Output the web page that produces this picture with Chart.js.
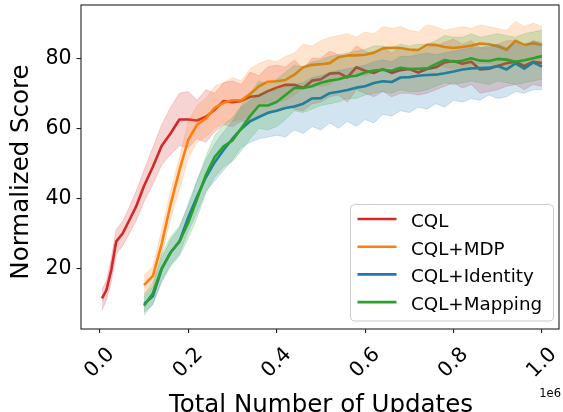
<!DOCTYPE html>
<html><head><meta charset="utf-8">
<script src="https://cdn.jsdelivr.net/npm/chart.js@4"></script>
<style>html,body{margin:0;padding:0;background:#fff}#wrap{width:563px;height:412px;position:relative}</style>
</head><body><div id="wrap"><canvas id="c"></canvas></div>
<script>
// ---- data (x in units of 1e6 updates) ----
const seriesLabels = ['CQL', 'CQL+MDP', 'CQL+Identity', 'CQL+Mapping'];
const seriesColors = ['#d62728', '#ff7f0e', '#1f77b4', '#2ca02c'];
const xTickValues = [0, 0.2, 0.4, 0.6, 0.8, 1.0];
const xTickLabels = ['0.0', '0.2', '0.4', '0.6', '0.8', '1.0'];
const yTickValues = [20, 40, 60, 80];
const xOffsetLabel = '1e6';
const xTitle = 'Total Number of Updates';
const yTitle = 'Normalized Score';

const xCQL = [0.005, 0.015, 0.026, 0.037, 0.052, 0.067, 0.082,
  0.10, 0.12, 0.14, 0.16, 0.18,
  0.20, 0.22, 0.24, 0.26, 0.28, 0.30, 0.32, 0.34, 0.36, 0.38,
  0.40, 0.42, 0.44, 0.46, 0.48, 0.50, 0.52, 0.54, 0.56, 0.58,
  0.60, 0.62, 0.64, 0.66, 0.68, 0.70, 0.72, 0.74, 0.76, 0.78,
  0.80, 0.82, 0.84, 0.86, 0.88, 0.90, 0.92, 0.94, 0.96, 0.98, 1.00];
const xOthers = [0.10, 0.12, 0.14, 0.16, 0.18,
  0.20, 0.22, 0.24, 0.26, 0.28, 0.30, 0.32, 0.34, 0.36, 0.38,
  0.40, 0.42, 0.44, 0.46, 0.48, 0.50, 0.52, 0.54, 0.56, 0.58,
  0.60, 0.62, 0.64, 0.66, 0.68, 0.70, 0.72, 0.74, 0.76, 0.78,
  0.80, 0.82, 0.84, 0.86, 0.88, 0.90, 0.92, 0.94, 0.96, 0.98, 1.00];

const cqlMean = [11.4, 13.8, 19.5, 27.6, 30, 33.8, 37.6,
  43.5, 49, 55, 58.5, 62.5,
  62.5, 62.2, 63.3, 65.3, 67.8, 67.4, 67.8, 69, 69.3, 70.6,
  71.6, 72.4, 72.4, 71.5, 73.6, 74, 75.6, 75.8, 74.5, 77.4,
  76.4, 75.8, 76.9, 75.8, 76.6, 76.9, 75.9, 76.9, 77.4, 78.8,
  79.2, 78.4, 79, 76.8, 77, 77.8, 78.6, 79, 77.8, 79, 78.6];
const cqlHi = [14, 16.5, 23, 31, 33.5, 37.5, 42,
  48, 54.5, 61, 66, 70,
  70.5, 68, 71, 70, 73, 73.5, 72.5, 76, 75, 77.5,
  78, 77.5, 79.5, 77, 80, 80, 82, 81, 80.5, 83.5,
  82, 81, 83, 81.5, 83, 82.5, 81.5, 83, 83.5, 84.5,
  85.5, 84, 85, 83, 83, 84, 85, 85, 84, 85, 84.5];
const cqlLo = [8, 11, 16, 24, 26.5, 30, 33.5,
  39, 44, 49.5, 52.5, 55,
  54.5, 57, 56, 59, 61, 60.5, 62, 62, 63, 64,
  65, 66.5, 65.5, 65, 67, 67.5, 69, 69.5, 67.5, 71,
  70, 69, 70.5, 69, 70, 70, 69.5, 70, 71, 72,
  73, 71.5, 72.5, 70, 70.5, 71, 72, 72.5, 71, 72.5, 72];

const mdpMean = [15.2, 17.8, 27, 38.2, 48,
  56.7, 61, 62.8, 65.8, 67.3, 68, 68, 69.8, 72, 73.3,
  73.4, 73.8, 75.3, 77.4, 78.1, 78.3, 78.6, 80.3, 80.8, 80.8,
  81, 81.6, 82.8, 83, 82.9, 82.5, 82.3, 83.8, 83.8, 83.2,
  82.9, 83.2, 83.6, 84.2, 84, 83.4, 82.4, 85, 83.8, 84.3, 83.8];
const mdpHi = [18, 20.5, 31, 42, 51.5,
  62, 66.5, 68.5, 72, 73, 74.5, 73.5, 77, 78.5, 79.5,
  79, 80.5, 81.5, 84, 83.5, 85, 86, 86.5, 87, 86,
  87.5, 87, 89, 88.5, 89, 88, 87.5, 89.5, 89, 88,
  88.5, 89, 88.5, 89.5, 89, 88.5, 88, 90.5, 89, 90, 89];
const mdpLo = [12.5, 14.5, 24, 34, 42.5,
  51.5, 56, 57.5, 60, 61.5, 62, 62.5, 63.5, 66, 67.5,
  67.5, 68, 69.5, 71.5, 72.5, 72, 72.5, 74.5, 75, 75.5,
  75, 76, 77, 77.5, 77, 76.5, 76.5, 78, 78.5, 77.5,
  77, 77.5, 78, 78.5, 78.5, 78, 76.5, 79.5, 78, 78.5, 78];

const idMean = [9.8, 12, 19.8, 24.5, 27.6,
  34.5, 40.5, 46, 50.3, 53.8, 57, 59.8, 62, 63.2, 64.4,
  65, 65.8, 66.2, 67, 68.5, 68.6, 70, 70.4, 70.9, 71.6,
  72, 72.9, 73.4, 73.2, 74.5, 74.6, 75, 75.2, 75.3, 75.7,
  76.2, 76.8, 77.1, 77.2, 77.3, 77.8, 76.8, 78.5, 77, 78.8, 77.6];
const idHi = [12, 14.5, 23, 28, 31.5,
  38.5, 45, 51, 55.5, 59, 62, 66, 68, 69.5, 70.5,
  71, 72, 72.5, 73, 74.5, 75, 76, 76.5, 77, 77.5,
  78, 79, 79.5, 79, 80.5, 80.5, 81, 81.5, 81, 81.5,
  82, 82.5, 83, 83, 83.5, 84, 83, 84.5, 83, 85, 84];
const idLo = [7.5, 9.5, 16.5, 21, 24,
  30.5, 36, 42, 45, 48, 51, 54.5, 56, 57, 57.5,
  58, 57.5, 59.5, 58.5, 60.5, 59.5, 61.5, 60, 62, 60.5,
  62.5, 61.5, 64, 63.5, 65, 64.5, 66, 65.5, 67, 66,
  68, 67.5, 68.5, 68, 69.5, 68.5, 69, 70.5, 70, 71, 71];

const mapMean = [9.3, 12.9, 20, 24.5, 27.6,
  33, 39.8, 46.7, 51.8, 54.8, 56.5, 60, 63.5, 66.5, 66.5,
  67.5, 69.5, 71.5, 71.5, 72, 73, 73.6, 74, 74.7, 75,
  75.9, 76.5, 76.7, 76.4, 77.3, 76.9, 77, 77.1, 78.3, 79.5,
  79, 79.3, 80, 79.3, 79.2, 79.8, 79.6, 79, 79.4, 80, 80.6];
const mapHi = [12.5, 16, 24, 29, 32,
  37.5, 45, 52, 58, 61, 63, 66.5, 70, 73.5, 72.5,
  74, 76, 78, 77.5, 79, 79.5, 80.5, 81, 81.5, 82,
  82.5, 83.5, 83.5, 83, 84, 83.5, 84, 84, 85, 86.5,
  86, 86, 87, 86, 86.5, 87, 86.5, 86, 87, 87.5, 88];
const mapLo = [6.5, 10, 16, 20.5, 23.5,
  28.5, 34.5, 41.5, 46, 49, 50.5, 53.5, 57, 60, 59.5,
  60.5, 62.5, 65, 64.5, 65.5, 66.5, 67, 67.5, 68.5, 68.5,
  69.5, 70, 70.5, 70, 71, 70.5, 70.5, 71, 72, 73,
  72.5, 73, 73.5, 73, 72.5, 73.5, 73, 72.5, 73, 73.5, 74];

// ---- build datasets ----
const seriesX = [xCQL, xOthers, xOthers, xOthers];
const seriesMean = [cqlMean, mdpMean, idMean, mapMean];
const seriesHi = [cqlHi, mdpHi, idHi, mapHi];
const seriesLo = [cqlLo, mdpLo, idLo, mapLo];

function rgba(hex, a) {
  const n = parseInt(hex.slice(1), 16);
  return `rgba(${(n >> 16) & 255},${(n >> 8) & 255},${n & 255},${a})`;
}
const pts = (xs, ys) => xs.map((x, i) => ({ x: x, y: ys[i] }));

const datasets = [];
const total = seriesLabels.length * 3;
seriesLabels.forEach((lab, s) => {
  const base = datasets.length;
  const col = seriesColors[s];
  datasets.push({ label: lab + ' hi', data: pts(seriesX[s], seriesHi[s]), fill: base + 1,
    backgroundColor: rgba(col, 0.2), borderColor: rgba(col, 0.18), borderWidth: 1,
    pointRadius: 0, tension: 0, order: total - 1 - base });
  datasets.push({ label: lab + ' lo', data: pts(seriesX[s], seriesLo[s]), fill: false,
    backgroundColor: rgba(col, 0.2), borderColor: rgba(col, 0.18), borderWidth: 1,
    pointRadius: 0, tension: 0, order: total - 2 - base });
  datasets.push({ label: lab, data: pts(seriesX[s], seriesMean[s]), fill: false,
    borderColor: col, backgroundColor: col, borderWidth: 2.6, borderJoinStyle: 'round',
    pointRadius: 0, tension: 0, order: total - 3 - base });
});

const FONT = '"DejaVu Sans", "Liberation Sans", sans-serif';

const overlay = {
  id: 'overlay',
  afterDraw(chart) {
    const { ctx, chartArea: a, scales: { x } } = chart;
    ctx.save();
    ctx.strokeStyle = '#222';
    ctx.lineWidth = 1.1;
    ctx.strokeRect(a.left, a.top, a.right - a.left, a.bottom - a.top);

    ctx.fillStyle = '#000';
    ctx.font = '20.5px ' + FONT;
    ctx.textAlign = 'center';
    ctx.textBaseline = 'middle';
    x.ticks.forEach((t, i) => {
      const px = x.getPixelForValue(t.value);
      ctx.save();
      ctx.translate(px, a.bottom + 34);
      ctx.rotate(-Math.PI / 4);
      ctx.fillText(xTickLabels[i], 0, 0);
      ctx.restore();
    });

    ctx.font = '11.5px ' + FONT;
    ctx.textAlign = 'right';
    ctx.textBaseline = 'alphabetic';
    ctx.fillText(xOffsetLabel, 561, 396.7);

    ctx.font = '24.5px ' + FONT;
    ctx.textAlign = 'center';
    ctx.textBaseline = 'alphabetic';
    ctx.fillText(xTitle, (a.left + a.right) / 2 + 1, 411.5);
    ctx.save();
    ctx.translate(28, 172);
    ctx.rotate(-Math.PI / 2);
    ctx.fillText(yTitle, 0, 0);
    ctx.restore();

    const bx = 350.5, by = 204.5, bw = 203, bh = 116.5;
    ctx.beginPath();
    ctx.roundRect(bx, by, bw, bh, 4);
    ctx.fillStyle = 'rgba(255,255,255,0.8)';
    ctx.fill();
    ctx.strokeStyle = '#cccccc';
    ctx.lineWidth = 1;
    ctx.stroke();
    ctx.font = '18.3px ' + FONT;
    ctx.textAlign = 'left';
    ctx.textBaseline = 'alphabetic';
    seriesLabels.forEach((lab, i) => {
      const ry = 219 + i * 27.7;
      ctx.beginPath();
      ctx.moveTo(357.5, ry);
      ctx.lineTo(396.5, ry);
      ctx.strokeStyle = seriesColors[i];
      ctx.lineWidth = 2.6;
      ctx.stroke();
      ctx.fillStyle = '#000';
      ctx.fillText(lab, 411, ry + 8);
    });
    ctx.restore();
  }
};

new Chart(document.getElementById('c'), {
  type: 'line',
  data: { datasets },
  options: {
    responsive: true,
    maintainAspectRatio: false,
    animation: false,
    devicePixelRatio: 1,
    layout: { padding: { left: 0, right: 4, top: 5, bottom: 0 } },
    plugins: {
      legend: { display: false },
      tooltip: { enabled: false },
      filler: { drawTime: 'beforeDatasetDraw', propagate: false }
    },
    scales: {
      x: {
        type: 'linear', min: -0.0425, max: 1.0385,
        afterBuildTicks: s => { s.ticks = xTickValues.map(v => ({ value: v })); },
        afterFit: s => { s.height = 83; s.paddingLeft = 0; s.paddingRight = 0; },
        ticks: { display: false },
        grid: { display: true, drawOnChartArea: false, drawTicks: true, tickLength: 4, color: '#222', lineWidth: 1.1 },
        border: { display: false }
      },
      y: {
        type: 'linear', min: 2.66, max: 95.2,
        afterBuildTicks: s => { s.ticks = yTickValues.map(v => ({ value: v })); },
        afterFit: s => { s.width = 81; s.paddingTop = 0; s.paddingBottom = 0; },
        ticks: { font: { family: FONT, size: 20.5 }, color: '#000', padding: 5 },
        grid: { display: true, drawOnChartArea: false, drawTicks: true, tickLength: 4.5, color: '#222', lineWidth: 1.1 },
        border: { display: false }
      }
    }
  },
  plugins: [overlay]
});
</script>
</body></html>
